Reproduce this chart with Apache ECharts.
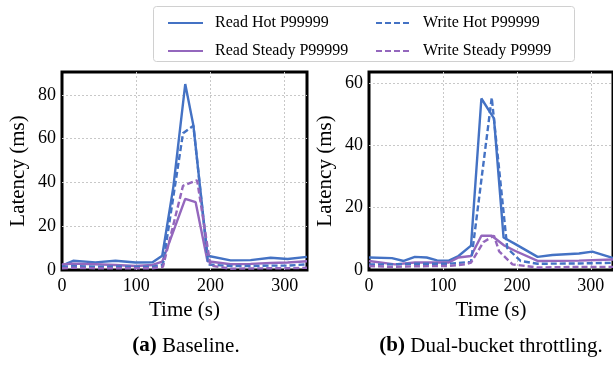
<!DOCTYPE html>
<html><head><meta charset="utf-8">
<script src="https://cdn.jsdelivr.net/npm/echarts@6/dist/echarts.min.js"></script>
<style>html,body{margin:0;padding:0;background:#fff}#c{width:613px;height:367px}</style>
</head><body><div id="c"></div>
<script>
// ---- data ([time s, latency ms]) ----
var readHotA = [[0,2],[15,4.2],[45,3.5],[72,4.2],[99,3.4],[122,3.5],[135,6.5],[150,38],[166,85],[177,66],[196,6.5],[227,4.4],[254,4.5],[281,5.6],[304,5],[330,6]];
var writeHotA = [[0,1.5],[15,1.8],[45,1.5],[72,1.6],[99,1.5],[122,1.5],[136,2.5],[163,62.5],[177,66],[197,2.5],[227,1.8],[254,1.8],[281,2],[304,2],[330,2.6]];
var readSteadyA = [[0,2.5],[15,2.9],[45,2.6],[72,2.3],[99,1.8],[122,2.3],[135,3.8],[166,32.5],[180,31],[196,4],[227,2.6],[254,2.8],[281,3.2],[304,3.4],[330,4]];
var writeSteadyA = [[0,0.8],[15,1],[45,0.8],[72,0.8],[99,0.8],[122,0.8],[136,1.5],[163,38.5],[182,41],[200,2],[227,0.6],[254,0.7],[281,0.8],[304,0.8],[330,1]];

var readHotB = [[0,4],[31,3.8],[47,2.9],[62,4.2],[78,4],[92,3.1],[108,3],[121,4.5],[138,7.8],[152,55],[169,48.6],[182,10.4],[198,8.3],[228,4.2],[248,4.8],[284,5.3],[302,5.9],[331,3.8]];
var writeHotB = [[0,1.8],[31,1.8],[62,2],[108,2],[138,2.6],[166,55.3],[187,7],[205,2.9],[228,2],[284,2.1],[331,2.3]];
var readSteadyB = [[0,2.9],[35,1.8],[62,2.4],[108,2.4],[121,4],[138,4.5],[152,11],[166,11],[182,8],[198,6.1],[228,2.9],[284,3],[331,3.4]];
var writeSteadyB = [[0,1.3],[31,1],[62,1.2],[108,1.3],[130,1.8],[138,2.4],[155,9],[169,11],[176,6],[194,1.8],[228,0.8],[284,1],[331,1]];

var xTicks = {min:0, max:330, interval:100};
var yMaxA = 90.5, yMaxB = 63.5;
var seriesNames = ['Read Hot P99999','Read Steady P99999','Write Hot P99999','Write Steady P9999'];
var panelTitles = [['(a)',' Baseline.'],['(b)',' Dual-bucket throttling.']];

// ---- styling ----
var FONT = 'Liberation Serif';
var BLUE = '#4472c4', PURPLE = '#9467bd';
var chart = echarts.init(document.getElementById('c'), null, {renderer:'canvas'});

function xAxis(gi){
  return {type:'value', gridIndex:gi, min:xTicks.min, max:xTicks.max, interval:xTicks.interval,
    name:'Time (s)', nameLocation:'middle', nameGap:27,
    nameTextStyle:{fontFamily:FONT, fontSize:21, color:'#000'},
    axisLine:{show:false}, axisTick:{show:false},
    axisLabel:{fontFamily:FONT, fontSize:18, color:'#000', margin:7, showMaxLabel:false},
    splitLine:{show:true, showMinLine:false, showMaxLine:false, lineStyle:{color:'#c8c8c8', type:[2,2], width:1}}};
}
function yAxis(gi, max){
  return {type:'value', gridIndex:gi, min:0, max:max, interval:20,
    name:'Latency (ms)', nameLocation:'middle', nameGap:33,
    nameTextStyle:{fontFamily:FONT, fontSize:21, color:'#000'},
    axisLine:{show:false}, axisTick:{show:false},
    axisLabel:{fontFamily:FONT, fontSize:18, color:'#000', margin:6, showMaxLabel:false},
    splitLine:{show:true, showMinLine:false, showMaxLine:false, lineStyle:{color:'#c8c8c8', type:[2,2], width:1}}};
}
function line(name, data, gi, color, dashed){
  return {type:'line', name:name, data:data, xAxisIndex:gi, yAxisIndex:gi,
    symbol:'none', showSymbol:false, smooth:false, animation:false,
    lineStyle:{color:color, width:2.4, type: dashed ? [6,3] : 'solid'},
    itemStyle:{color:color}};
}
var legendCommon = {orient:'vertical', itemWidth:35, itemHeight:14, itemGap:12,
  itemStyle:{opacity:0, borderWidth:0},
  textStyle:{fontFamily:FONT, fontSize:16, color:'#000', padding:[0,0,0,7]}, selectedMode:false};
function caption(t, cx){
  return {type:'text', x:cx, y:346, style:{text:'{b|' + t[0] + '}{n|' + t[1] + '}', align:'center', verticalAlign:'middle',
    rich:{b:{fontFamily:FONT, fontSize:21, fontWeight:'bold', fill:'#000'}, n:{fontFamily:FONT, fontSize:21, fill:'#000'}}}};
}

chart.setOption({
  animation:false,
  grid:[
    {left:62, right:306, top:72, bottom:97, show:true, borderColor:'#000', borderWidth:3, backgroundColor:'transparent'},
    {left:369, right:-1, top:72, bottom:97, show:true, borderColor:'#000', borderWidth:3, backgroundColor:'transparent'}
  ],
  xAxis:[xAxis(0), xAxis(1)],
  yAxis:[yAxis(0, yMaxA), yAxis(1, yMaxB)],
  legend:[
    Object.assign({left:162, top:10, data:[seriesNames[0], seriesNames[1]]}, legendCommon),
    Object.assign({left:370, top:10, data:[seriesNames[2], seriesNames[3]]}, legendCommon)
  ],
  graphic:[
    {type:'rect', left:151, top:4, shape:{width:421, height:55, r:3}, style:{fill:'none', stroke:'#d0d0d0', lineWidth:1}, z:-1},
    caption(panelTitles[0], 186),
    caption(panelTitles[1], 491)
  ],
  series:[
    line(seriesNames[0], readHotA, 0, BLUE, false),
    line(seriesNames[1], readSteadyA, 0, PURPLE, false),
    line(seriesNames[2], writeHotA, 0, BLUE, true),
    line(seriesNames[3], writeSteadyA, 0, PURPLE, true),
    line(seriesNames[0], readHotB, 1, BLUE, false),
    line(seriesNames[1], readSteadyB, 1, PURPLE, false),
    line(seriesNames[2], writeHotB, 1, BLUE, true),
    line(seriesNames[3], writeSteadyB, 1, PURPLE, true)
  ]
});
</script></body></html>
